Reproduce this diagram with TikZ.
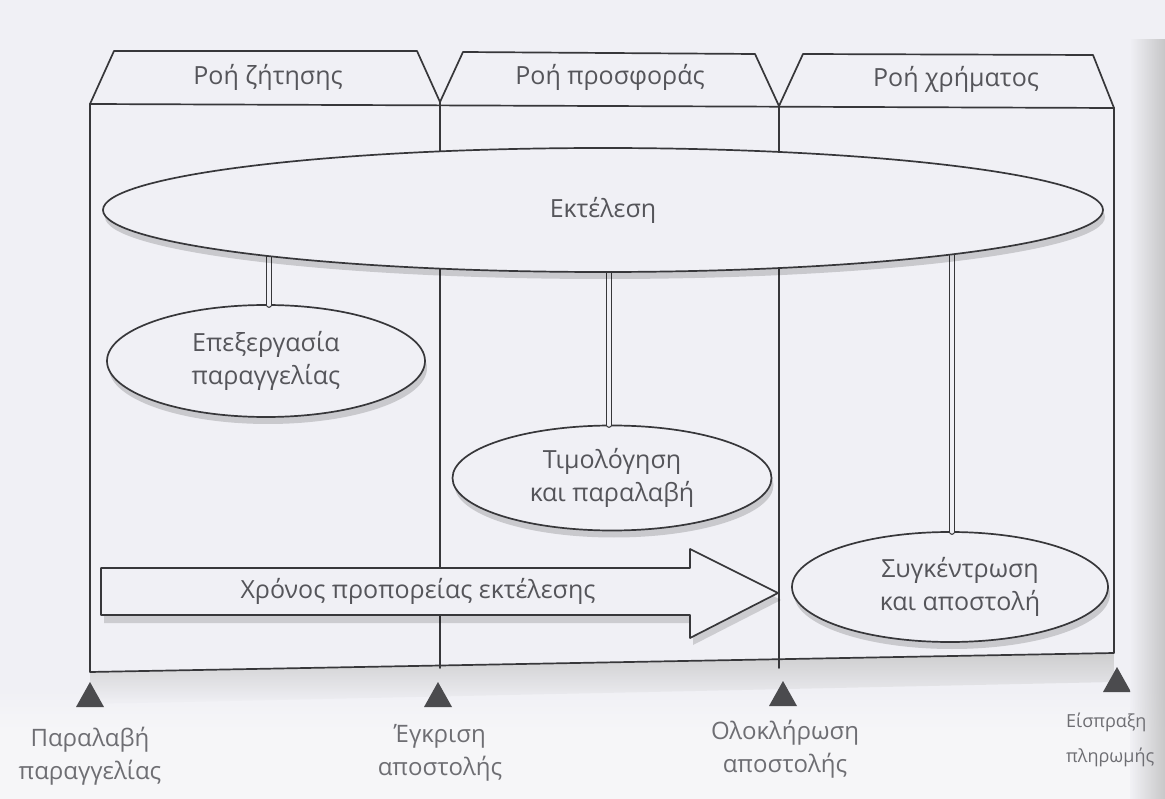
\documentclass[tikz,border=0pt]{standalone}
\usepackage{fontspec}
\setmainfont{Open Sans}
\usetikzlibrary{shapes.geometric,shadows}
\definecolor{paper}{RGB}{240,240,245}
\definecolor{paperlow}{RGB}{246,246,248}
\definecolor{ink}{RGB}{55,55,58}
\definecolor{pencil}{RGB}{85,85,90}
\begin{document}
\begin{tikzpicture}[x=1pt,y=-1pt,line join=round,line cap=round,
  frame/.style={draw=ink,line width=1.7pt},
  ell/.style={ellipse,draw=ink,line width=1.7pt,fill=paper,inner sep=0pt,outer sep=0pt,
    drop shadow={shadow xshift=2pt,shadow yshift=-7pt,fill=black,opacity=.16}},
  link/.style={draw=ink,line width=1.3pt,double=paper,double distance=3.2pt},
  lbl/.style={text=pencil,font=\fontsize{25}{33}\selectfont,align=center,inner sep=0pt},
  mlbl/.style={text=pencil!85,font=\fontsize{24}{33}\selectfont,align=center,inner sep=0pt},
  milestone/.style={fill=ink!90}]
% sheet
\clip (0,0) rectangle (1165,799);
\fill[paper] (0,0) rectangle (1165,799);
\shade[top color=paper,bottom color=paperlow] (0,690) rectangle (1165,730);
\fill[paperlow] (0,730) rectangle (1165,799);

% frame corners
\coordinate (tl) at (90,104);
\coordinate (tr) at (1114,108);
\coordinate (bl) at (90,672);
\coordinate (br) at (1114,653);
\coordinate (d1t) at (440,102);
\coordinate (d1b) at (440,668);
\coordinate (d2t) at (779,106);
\coordinate (d2b) at (779,668);

% shading under the bottom edge
\shade[top color=gray!45,bottom color=paper,opacity=.8]
  (bl) -- (br) -- (1114,682) -- (90,704) -- cycle;

% header tabs
\draw[frame] (tl) -- (114,51) -- (417,51) -- (d1t) -- (463,52) -- (755,54) -- (d2t)
  -- (803,54) -- (1093,55) -- (tr);
\draw[frame] (tl) -- (tr);
% lanes
\draw[frame] (tl) -- (bl) -- (br) -- (tr);
\draw[frame] (d1t) -- (d1b);
\draw[frame] (d2t) -- (d2b);

\node[lbl] (h1) at (268,77) {Ροή ζήτησης};
\node[lbl] (h2) at (610,77) {Ροή προσφοράς};
\node[lbl] (h3) at (956,79) {Ροή χρήματος};

% sub-activities
\node[ell,minimum width=318pt,minimum height=112pt] (proc) at (266,361) {};
\node[ell,minimum width=319pt,minimum height=105pt] (bill) at (612,478) {};
\node[ell,minimum width=316pt,minimum height=110pt] (ship) at (950,587) {};

% links from the main activity
\coordinate (big) at (603,210);
\draw[link] (269,305) -- (269,220);
\draw[link] (609,425) -- (609,220);
\draw[link] (952,532) -- (952,220);

\node[ell,minimum width=1000pt,minimum height=124pt] (exec) at (big) {};
\node[lbl] at (exec.center) {Εκτέλεση};

\node[lbl] at (proc.center) {Επεξεργασία\\παραγγελίας};
\node[lbl] at (bill.center) {Τιμολόγηση\\και παραλαβή};
\node[lbl] at ([xshift=10pt]ship.center) {Συγκέντρωση\\και αποστολή};

% lead time arrow
\fill[black,opacity=.15] (104,575) -- (693,575) -- (693,556) -- (781,600) -- (693,645)
  -- (693,623) -- (104,623) -- cycle;
\draw[frame,fill=paper] (101,568) -- (690,568) -- (690,549) -- (778,593) -- (690,638)
  -- (690,615) -- (101,615) -- cycle;
\node[lbl] (lead) at (418,591) {Χρόνος προπορείας εκτέλεσης};

% milestones
\coordinate (m1) at (90,682);
\coordinate (m2) at (438,682);
\coordinate (m3) at (783,681);
\coordinate (m4) at (1117,667);
\foreach \m in {m1,m2,m3,m4}
  \fill[milestone] (\m) -- ++(-14,25) -- ++(28,0) -- cycle;

% darkened right margin
\shade[left color=paper,right color=gray!55,opacity=.75] (1130,40) rectangle (1165,799);

\node[mlbl] (t1) at (90,756) {Παραλαβή\\παραγγελίας};
\node[mlbl] (t2) at (440,753) {Έγκριση\\αποστολής};
\node[mlbl] (t3) at (785,749) {Ολοκλήρωση\\αποστολής};
\node[mlbl,anchor=west,align=left,font=\fontsize{18}{35}\selectfont] (t4) at (1066,740) {Είσπραξη\\πληρωμής};
\end{tikzpicture}
\end{document}
